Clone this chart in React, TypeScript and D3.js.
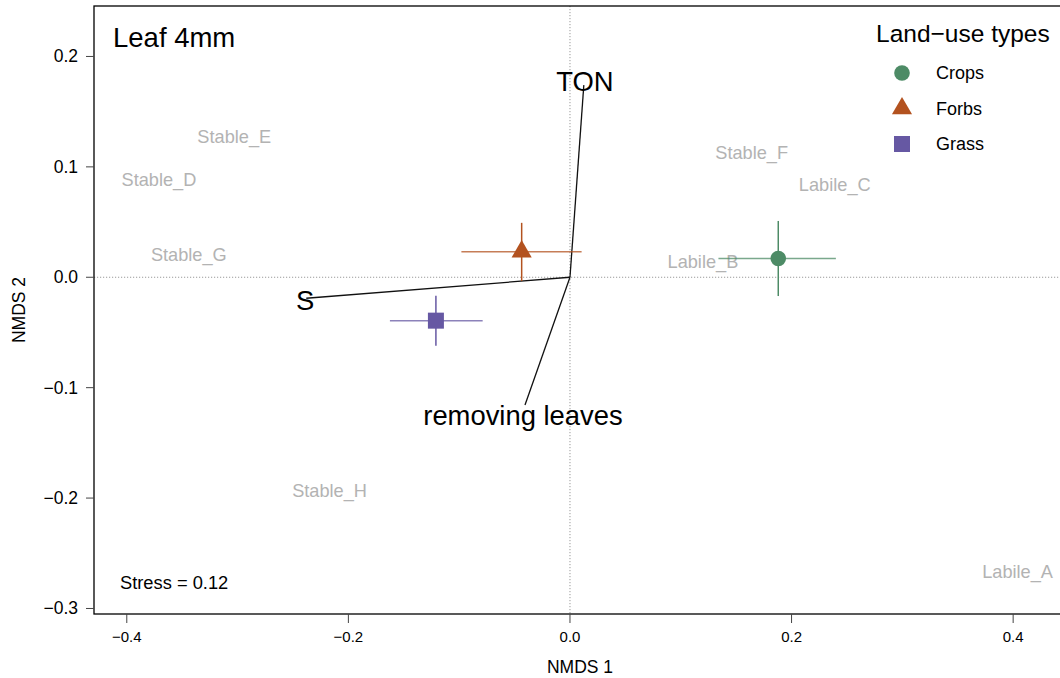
import * as d3 from 'd3';

// grey sample labels (NMDS site scores)
const siteNames = ['Stable_E', 'Stable_D', 'Stable_G', 'Stable_F', 'Labile_C', 'Labile_B', 'Stable_H', 'Labile_A'];
const siteX = [-0.303, -0.371, -0.344, 0.164, 0.239, 0.120, -0.217, 0.404];
const siteY = [0.127, 0.088, 0.020, 0.113, 0.084, 0.014, -0.194, -0.267];

// land-use group centroids with error ranges
const groups = ['Crops', 'Forbs', 'Grass'];
const groupColors = ['#4d8b66', '#b3521f', '#6658a3'];
const groupShapes = ['circle', 'triangle', 'square'];
const groupX = [0.188, -0.0436, -0.121];
const groupY = [0.017, 0.0232, -0.0393];
const groupXLo = [0.134, -0.098, -0.1625];
const groupXHi = [0.240, 0.0105, -0.0788];
const groupYLo = [-0.017, -0.0034, -0.062];
const groupYHi = [0.051, 0.0493, -0.0167];

// fitted environmental vectors
const vecNames = ['TON', 'S', 'removing leaves'];
const vecX = [0.0125, -0.238, -0.0406];
const vecY = [0.174, -0.019, -0.1157];
const vecLabX = [0.0135, -0.239, -0.0424];
const vecLabY = [0.177, -0.021, -0.1256];

const xTicks = [-0.4, -0.2, 0.0, 0.2, 0.4];
const yTicks = [0.2, 0.1, 0.0, -0.1, -0.2, -0.3];

const W = 1060;
const H = 678;
const plot = { left: 94, right: 1066, top: 6, bottom: 614 };
const font = '"Liberation Sans", Arial, Helvetica, sans-serif';

function Marker({ shape, x, y, color, scale = 1 }: { shape: string; x: number; y: number; color: string; scale?: number }) {
  if (shape === 'circle') {
    return <circle cx={x} cy={y} r={7.8 * scale} fill={color} />;
  }
  if (shape === 'square') {
    const s = 16 * scale;
    return <rect x={x - s / 2} y={y - s / 2} width={s} height={s} fill={color} />;
  }
  const path = d3.symbol(d3.symbolTriangle, 175 * scale * scale)() || '';
  return <path d={path} transform={`translate(${x},${y})`} fill={color} />;
}

export default function App() {
  const x = d3.scaleLinear().domain([-0.4296, 0.4477]).range([plot.left, plot.right]);
  const y = d3.scaleLinear().domain([-0.305, 0.2457]).range([plot.bottom, plot.top]);
  const fmt = (v: number) => d3.format('.1f')(v).replace('-', '\u2212');

  return (
    <svg width={W} height={H} style={{ position: 'absolute', left: 0, top: 0, background: '#fff' }} fontFamily={font}>
      <defs>
        <clipPath id="plotClip">
          <rect x={plot.left} y={plot.top} width={plot.right - plot.left} height={plot.bottom - plot.top} />
        </clipPath>
      </defs>

      {/* zero reference lines */}
      <g clipPath="url(#plotClip)">
        <line x1={x(0)} x2={x(0)} y1={plot.top} y2={plot.bottom} stroke="#9a9a9a" strokeWidth={1} strokeDasharray="1.2,1.8" />
        <line x1={plot.left} x2={plot.right} y1={y(0)} y2={y(0)} stroke="#9a9a9a" strokeWidth={1} strokeDasharray="1.2,1.8" />
      </g>

      {/* site labels */}
      {siteNames.map((n, i) => (
        <text key={n} x={x(siteX[i])} y={y(siteY[i])} textAnchor="middle" dominantBaseline="central" fontSize={18.2} fill="#b3b3b3">
          {n}
        </text>
      ))}

      {/* vectors */}
      {vecNames.map((n, i) => (
        <g key={n}>
          <line x1={x(0)} y1={y(0)} x2={x(vecX[i])} y2={y(vecY[i])} stroke="#111" strokeWidth={1.3} />
          <text x={x(vecLabX[i])} y={y(vecLabY[i])} textAnchor="middle" dominantBaseline="central" fontSize={27.4} fill="#000">
            {n}
          </text>
        </g>
      ))}

      {/* group centroids with error bars */}
      {groups.map((g, i) => (
        <g key={g}>
          <line x1={x(groupXLo[i])} x2={x(groupXHi[i])} y1={y(groupY[i])} y2={y(groupY[i])} stroke={groupColors[i]} strokeWidth={1.5} strokeOpacity={0.75} />
          <line x1={x(groupX[i])} x2={x(groupX[i])} y1={y(groupYLo[i])} y2={y(groupYHi[i])} stroke={groupColors[i]} strokeWidth={1.5} />
          <Marker shape={groupShapes[i]} x={x(groupX[i])} y={y(groupY[i])} color={groupColors[i]} />
        </g>
      ))}

      {/* plot box */}
      <rect x={plot.left} y={plot.top} width={plot.right - plot.left} height={plot.bottom - plot.top} fill="none" stroke="#000" strokeWidth={1.3} />

      {/* y axis */}
      {yTicks.map((t) => (
        <g key={t} transform={`translate(0,${y(t)})`}>
          <line x1={plot.left - 8} x2={plot.left} stroke="#444" strokeWidth={1} />
          <text x={78} textAnchor="end" dominantBaseline="central" fontSize={17.5} fill="#000">
            {fmt(t)}
          </text>
        </g>
      ))}

      {/* x axis */}
      {xTicks.map((t) => (
        <g key={t} transform={`translate(${x(t)},0)`}>
          <line y1={plot.bottom} y2={plot.bottom + 9} stroke="#444" strokeWidth={1} />
          <text y={641.5} textAnchor="middle" fontSize={15} fill="#000">
            {fmt(t)}
          </text>
        </g>
      ))}

      <text x={(plot.left + plot.right) / 2} y={673} textAnchor="middle" fontSize={17.5} fill="#000">NMDS 1</text>
      <text transform={`translate(25,${(plot.top + plot.bottom) / 2}) rotate(-90)`} textAnchor="middle" fontSize={17.5} fill="#000">NMDS 2</text>

      <text x={113} y={46.5} fontSize={27.5} fill="#000">Leaf 4mm</text>
      <text x={120} y={589} fontSize={18.3} fill="#000">Stress = 0.12</text>

      {/* legend */}
      <text x={876} y={41.5} fontSize={24.5} fill="#000">Land{'\u2212'}use types</text>
      {groups.map((g, i) => {
        const cy = 73 + i * 35.5;
        return (
          <g key={g}>
            <Marker shape={groupShapes[i]} x={902} y={cy} color={groupColors[i]} />
            <text x={936} y={cy} dominantBaseline="central" fontSize={18} fill="#000">{g}</text>
          </g>
        );
      })}
    </svg>
  );
}
